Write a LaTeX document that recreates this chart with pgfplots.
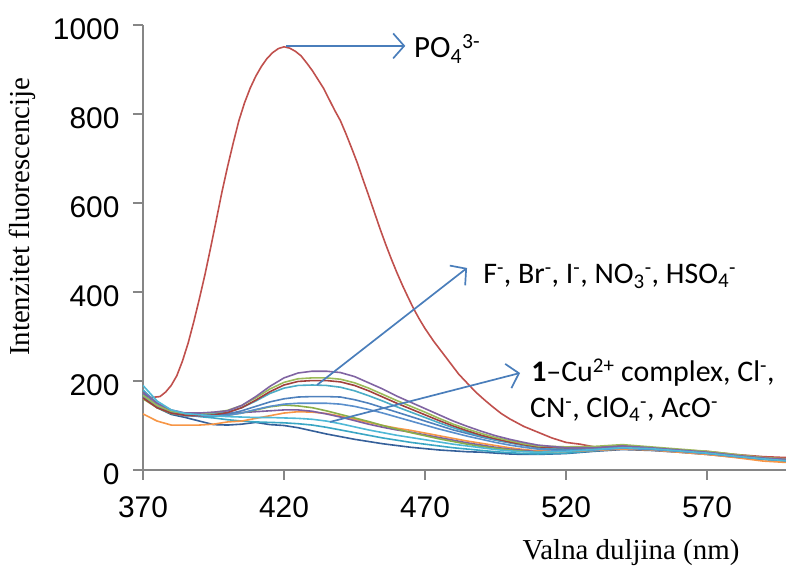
\documentclass[border=0pt]{standalone}
\usepackage{fontspec}
\setmainfont{Liberation Sans}
\newfontfamily\serif{Liberation Serif}
\newfontfamily\calib{Carlito}
\usepackage{pgfplots}
\usepackage{pgfplotstable}
\pgfplotsset{compat=1.18}
\usetikzlibrary{arrows.meta}
\definecolor{axisgray}{HTML}{868686}
\definecolor{arrowblue}{HTML}{4A7EBB}
\definecolor{cRed}{HTML}{C0504D}
\definecolor{cDRed}{HTML}{A0403D}
\definecolor{cPurple}{HTML}{8064A2}
\definecolor{cGreen}{HTML}{9BBB59}
\definecolor{cTeal}{HTML}{4BACC6}
\definecolor{cBlue}{HTML}{4F81BD}
\definecolor{cBlueB}{HTML}{5A8FCC}
\definecolor{cGreenB}{HTML}{8AAE48}
\definecolor{cPurpleB}{HTML}{7D5FA0}
\definecolor{cOrange}{HTML}{F79646}
\definecolor{cLBlue}{HTML}{4FB8D6}
\definecolor{cCyan}{HTML}{3AA6C4}
\definecolor{cDBlue}{HTML}{35609A}

\pgfplotstableread{
x   y
370 170
373 163
376 165
378 175
380 190
382 212
384 245
386 285
388 333
390 385
392 440
394 500
396 562
398 625
400 682
402 735
404 785
406 825
408 858
410 885
412 907
414 925
416 938
418 947
420 951
422 948
424 941
426 931
428 915
430 898
432 878
434 858
436 833
438 808
440 785
442 755
444 723
446 690
448 653
450 617
452 580
454 543
456 508
458 475
460 444
462 415
464 388
466 362
468 339
470 318
473 290
476 265
479 240
482 215
485 195
488 175
491 158
494 142
497 127
500 115
505 98
510 85
515 72
520 62
525 58
530 52
540 48
550 47
560 45
570 42
580 35
590 30
598 28
}\tPO

\pgfplotstableread{
x   a1  a2  a3  a4  a5  a6  b1  b2  b3  b4  b5  b6
370 175 168 162 180 170 165 160 170 126 190 178 165
375 150 145 140 150 145 142 140 145 110 155 150 140
380 135 132 128 133 130 128 127 130 101 135 132 125
385 128 127 123 126 124 122 122 125 101 127 124 118
390 128 127 122 126 124 121 121 125 101 124 120 110
395 130 129 124 127 124 121 121 126 103 122 117 102
400 133 134 129 130 126 123 123 127 108 120 113 101
405 145 145 140 140 133 128 128 129 110 119 110 103
410 165 162 157 155 143 136 135 131 116 118 108 107
415 188 182 176 172 153 143 142 133 122 118 107 102
420 207 197 191 184 160 148 146 135 128 117 106 100
425 218 205 199 190 164 150 144 135 131 116 104 95
430 222 207 201 191 165 150 140 132 130 114 101 88
435 222 207 201 190 165 150 133 126 127 110 96 81
440 219 204 198 186 164 148 125 119 121 104 90 75
445 210 196 190 178 158 143 117 111 114 97 84 69
450 196 184 178 167 150 136 109 103 107 90 78 64
455 182 170 164 155 140 128 100 96 100 84 72 59
460 166 156 150 142 130 119 92 90 94 78 67 55
465 152 143 137 130 120 110 84 85 89 73 62 51
470 138 130 124 118 110 101 77 79 83 68 58 48
475 124 116 111 106 100 92 70 73 77 63 54 45
480 110 103 99 95 90 84 64 67 71 58 50 43
485 98 92 88 85 82 76 58 61 65 54 47 41
490 87 82 78 76 74 69 53 56 60 50 44 40
495 77 73 70 68 67 62 49 51 55 46 41 38
500 69 66 63 62 61 56 45 47 50 43 39 36
505 62 59 57 56 55 51 42 44 46 41 37 35
510 56 54 52 51 50 47 40 41 43 40 36 35
520 50 52 50 48 45 43 42 42 42 42 38 37
530 50 53 51 50 47 45 47 48 44 46 43 42
540 54 57 55 54 51 49 52 55 47 50 48 46
550 50 52 50 50 48 46 49 50 45 48 46 44
560 45 47 45 45 43 42 44 44 40 43 41 40
570 40 42 40 40 38 37 39 39 35 38 36 35
580 33 35 33 33 31 30 32 32 28 31 30 29
590 27 28 27 27 26 25 26 26 20 25 24 24
598 24 25 24 23 22 21 22 22 17 21 20 20
}\tOthers

\begin{document}
\begin{tikzpicture}
\begin{axis}[
  scale only axis, width=643bp, height=445bp,
  xmin=370, xmax=598, ymin=0, ymax=1000,
  axis x line=bottom, axis y line=left,
  axis line style={draw=axisgray, line width=2bp, -},
  xtick={370,420,470,520,570}, ytick={0,200,400,600,800,1000},
  tick align=outside, major tick length=10bp,
  tick style={draw=axisgray, line width=1.6bp},
  ticklabel style={font=\fontsize{30}{30}\selectfont},
  /pgf/number format/assume math mode=true,
  /pgf/number format/1000 sep={},
  x tick label style={yshift=-13bp},
  y tick label style={xshift=-10bp, yshift=-4bp},
  clip mode=individual,
  every axis plot/.append style={line width=1.6bp, no markers},
  xlabel={\serif\fontsize{29}{29}\selectfont Valna duljina (nm)},
  xlabel style={at={(axis description cs:0.759,-0.1865)}, anchor=center},
  ylabel={\serif\fontsize{29}{29}\selectfont Intenzitet fluorescencije},
  ylabel style={at={(axis description cs:-0.188,0.569)}, anchor=center},
]
\addplot[cRed] table[x=x,y=y] {\tPO};
\addplot[cDBlue]   table[x=x,y=b6] {\tOthers};
\addplot[cCyan]    table[x=x,y=b5] {\tOthers};
\addplot[cOrange]  table[x=x,y=b3] {\tOthers};
\addplot[cPurpleB] table[x=x,y=b2] {\tOthers};
\addplot[cGreenB]  table[x=x,y=b1] {\tOthers};
\addplot[cBlueB]   table[x=x,y=a6] {\tOthers};
\addplot[cBlue]    table[x=x,y=a5] {\tOthers};
\addplot[cTeal]    table[x=x,y=a4] {\tOthers};
\addplot[cDRed]    table[x=x,y=a3] {\tOthers};
\addplot[cGreen]   table[x=x,y=a2] {\tOthers};
\addplot[cPurple]  table[x=x,y=a1] {\tOthers};
\addplot[cLBlue]   table[x=x,y=b4] {\tOthers};

\draw[arrowblue, line width=1.7bp, -{Straight Barb[length=11bp,width=25bp]}]
  (axis cs:420.7,953) -- (axis cs:463,953);
\draw[arrowblue, line width=1.7bp, -{Straight Barb[length=11bp,width=25bp]}]
  (axis cs:431.7,191) -- (axis cs:484.9,454);
\draw[arrowblue, line width=1.7bp, -{Straight Barb[length=11bp,width=25bp]}]
  (axis cs:436.3,108) -- (axis cs:503.7,218);

\node[anchor=base west, inner sep=0, font=\calib\fontsize{31}{31}\selectfont]
  at (axis cs:466.1,926) {PO\textsubscript{4}\textsuperscript{3-}};
\node[anchor=base west, inner sep=0, font=\calib\fontsize{30}{30}\selectfont]
  at (axis cs:490.6,420) {F\textsuperscript{-}, Br\textsuperscript{-}, I\textsuperscript{-}, NO\textsubscript{3}\textsuperscript{-}, HSO\textsubscript{4}\textsuperscript{-}};
\node[anchor=base west, inner sep=0, font=\calib\fontsize{30}{30}\selectfont]
  at (axis cs:507.6,198) {\textbf{1}–Cu\textsuperscript{2+} complex, Cl\textsuperscript{-},};
\node[anchor=base west, inner sep=0, font=\calib\fontsize{30}{30}\selectfont]
  at (axis cs:507.2,119) {CN\textsuperscript{-}, ClO\textsubscript{4}\textsuperscript{-}, AcO\textsuperscript{-}};
\end{axis}
\pgfresetboundingbox
\useasboundingbox (-143bp,-102bp) rectangle (643bp,470bp);
\end{tikzpicture}
\end{document}
